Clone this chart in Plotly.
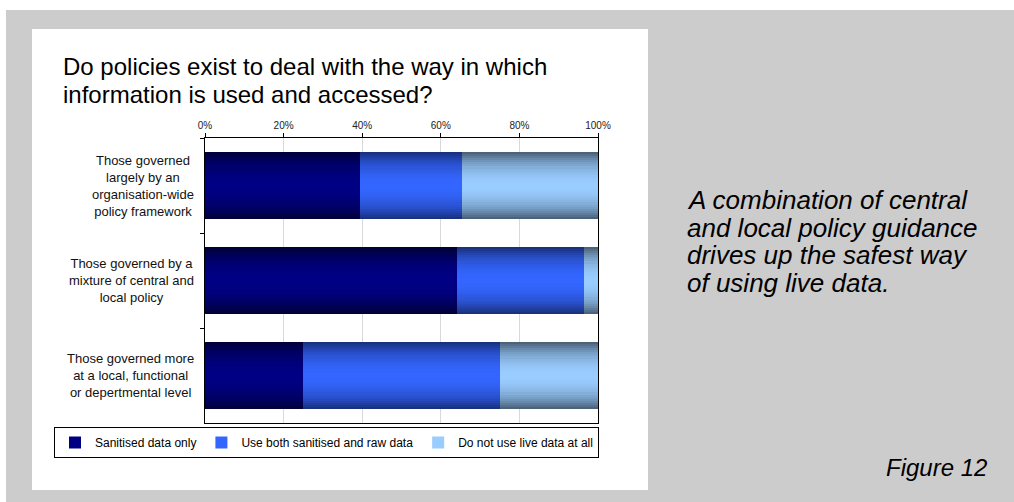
import plotly.graph_objects as go

# ---------------- data ----------------
categories = [
    "Those governed<br>largely by an<br>organisation-wide<br>policy framework",
    "Those governed by a<br>mixture of central and<br>local policy",
    "Those governed more<br>at a local, functional<br>or depertmental level",
]
series_names = ["Sanitised data only", "Use both sanitised and raw data", "Do not use live data at all"]
sanitised = [39.5, 64.0, 25.0]
both = [26.0, 32.5, 50.0]
none_live = [34.5, 3.5, 25.0]
tick_vals = [0, 20, 40, 60, 80, 100]
tick_text = ["0%", "20%", "40%", "60%", "80%", "100%"]

title_lines = ["Do policies exist to deal with the way in which",
               "information is used and accessed?"]
side_lines = ["A combination of central", "and local policy guidance",
              "drives up the safest way", "of using live data."]
figure_label = "Figure 12"

# ---------------- style ----------------
W, H = 1014, 502
PL, PR, PT, PB = 205, 598, 138, 423  # plot area in pixels
FONT = "Liberation Sans, Arial, sans-serif"

edge_cols = ["#000038", "#1a3180", "#4b6278"]
center_cols = ["#000084", "#3366ff", "#99ccff"]
BAR_W = 0.715
N_LAYERS = 16


def px_x(px):
    return (px - PL) / (PR - PL)


def px_y(py):
    return (PB - py) / (PB - PT)


def hex2rgb(h):
    h = h.lstrip("#")
    return [int(h[i:i + 2], 16) for i in (0, 2, 4)]


def lerp(c1, c2, t):
    a, b = hex2rgb(c1), hex2rgb(c2)
    return "rgb(%d,%d,%d)" % tuple(round(a[i] + (b[i] - a[i]) * t) for i in range(3))


fig = go.Figure()

series = [sanitised, both, none_live]
bases = [[0.0] * len(categories)]
for s in series[:-1]:
    bases.append([b + v for b, v in zip(bases[-1], s)])

for si, (vals, base) in enumerate(zip(series, bases)):
    for k in range(N_LAYERS):
        d = 1 - k / N_LAYERS
        col = lerp(center_cols[si], edge_cols[si], d ** 2.2)
        last = k == N_LAYERS - 1
        fig.add_trace(go.Bar(
            y=categories, x=vals, base=base, orientation="h",
            width=BAR_W * d,
            marker=dict(color=col, line=dict(width=0)),
            name=series_names[si], legendgroup=series_names[si],
            showlegend=last, hoverinfo="skip",
        ))

fig.update_layout(
    width=W, height=H,
    margin=dict(l=PL, r=W - PR, t=PT, b=H - PB, pad=0),
    paper_bgcolor="white", plot_bgcolor="white",
    barmode="overlay", bargap=0,
    font=dict(family=FONT, color="#000000"),
    showlegend=True,
    legend=dict(
        orientation="h", x=px_x(599), xanchor="right", y=px_y(427), yanchor="top",
        bordercolor="#000000", borderwidth=1, bgcolor="white",
        font=dict(size=12, family=FONT, color="#000000"),
        traceorder="normal", itemwidth=30, tracegroupgap=0,
    ),
    xaxis=dict(
        range=[0, 100], side="top", tickvals=tick_vals, ticktext=tick_text,
        ticks="outside", ticklen=4, tickcolor="#000000",
        tickfont=dict(size=10, family=FONT, color="#222222"),
        showgrid=True, gridcolor="#d9d9d9", gridwidth=1,
        showline=True, linecolor="#000000", linewidth=1, mirror=True,
        zeroline=False, fixedrange=True,
    ),
    yaxis=dict(
        type="category", categoryorder="array", categoryarray=categories,
        autorange="reversed", tickson="boundaries",
        ticks="outside", ticklen=4, tickcolor="#000000",
        showticklabels=False, showgrid=False,
        showline=True, linecolor="#000000", linewidth=1, mirror=True,
        zeroline=False, fixedrange=True,
    ),
    shapes=[
        dict(type="rect", xref="paper", yref="paper", layer="below",
             x0=px_x(6), x1=px_x(1014), y0=px_y(502), y1=px_y(10),
             fillcolor="#cccccc", line=dict(width=0)),
        dict(type="rect", xref="paper", yref="paper", layer="below",
             x0=px_x(32), x1=px_x(648), y0=px_y(490), y1=px_y(29),
             fillcolor="#ffffff", line=dict(width=0)),
    ],
)

annotations = []
for cat in categories:
    annotations.append(dict(
        text=cat, xref="paper", yref="y", x=px_x(196), y=cat,
        xanchor="right", yanchor="middle", align="center", showarrow=False,
        font=dict(size=13, family=FONT, color="#111111"),
    ))
for i, line in enumerate(title_lines):
    annotations.append(dict(
        text=line, xref="paper", yref="paper", x=px_x(61), y=px_y(67 + 27 * i),
        xanchor="left", yanchor="middle", align="left", showarrow=False,
        font=dict(size=24, family=FONT, color="#000000"),
    ))
for i, line in enumerate(side_lines):
    annotations.append(dict(
        text="<i>" + line + "</i>", xref="paper", yref="paper", x=px_x(685), y=px_y(200 + 27.5 * i),
        xanchor="left", yanchor="middle", align="left", showarrow=False,
        font=dict(size=26, family=FONT, color="#000000"),
    ))
annotations.append(dict(
    text="<i>" + figure_label + "</i>", xref="paper", yref="paper", x=px_x(989), y=px_y(467),
    xanchor="right", yanchor="middle", align="right", showarrow=False,
    font=dict(size=24, family=FONT, color="#000000"),
))
fig.update_layout(annotations=annotations)

fig.write_html("out.html", include_plotlyjs=True, config={"displayModeBar": False})
